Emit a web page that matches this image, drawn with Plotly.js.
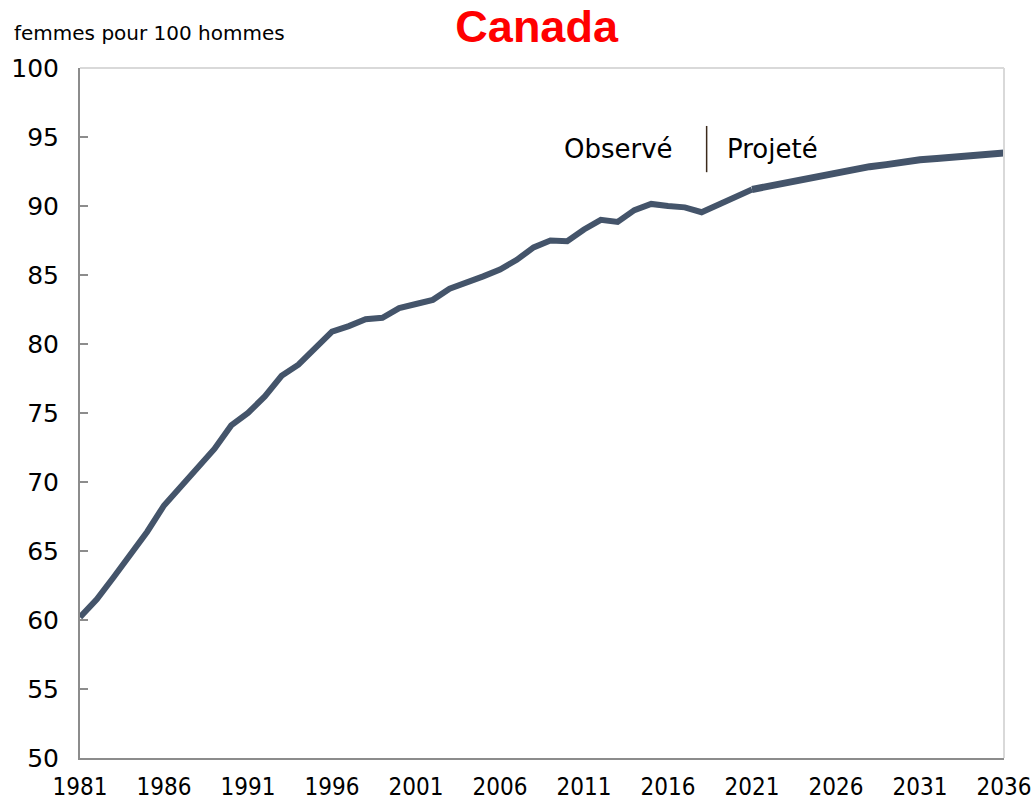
<!DOCTYPE html>
<html>
<head>
<meta charset="utf-8">
<script src="https://cdn.plot.ly/plotly-3.0.1.min.js"></script>
<style>html,body{margin:0;padding:0;background:#fff;}#chart{width:1036px;height:806px;}</style>
</head>
<body>
<div id="chart"></div>
<script>
const obsYears = [1981,1982,1983,1984,1985,1986,1987,1988,1989,1990,1991,1992,1993,1994,1995,1996,1997,1998,1999,2000,2001,2002,2003,2004,2005,2006,2007,2008,2009,2010,2011,2012,2013,2014,2015,2016,2017,2018,2019,2020,2021];
const obsValues = [60.2,61.5,63.1,64.7,66.4,68.3,69.7,71.1,72.4,74.1,75.0,76.2,77.7,78.5,79.7,80.9,81.3,81.8,81.9,82.6,82.9,83.2,84.0,84.4,84.9,85.4,86.1,87.0,87.5,87.45,88.3,89.0,88.85,89.7,90.15,90.0,89.9,89.55,90.1,90.6,91.2];
const projYears = [2021,2022,2023,2024,2025,2026,2027,2028,2029,2030,2031,2032,2033,2034,2035,2036];
const projValues = [91.2,91.45,91.7,91.95,92.2,92.45,92.65,92.85,93.0,93.2,93.35,93.45,93.55,93.65,93.75,93.85];
const tickYears = [1981,1986,1991,1996,2001,2006,2011,2016,2021,2026,2031,2036];
const tickValues = [50,55,60,65,70,75,80,85,90,95,100];

const lineColor = '#44546a';
const condFont = 'DejaVu Sans Condensed, Liberation Sans Narrow, Liberation Sans, sans-serif';

const data = [
  {x: obsYears, y: obsValues, type: 'scatter', mode: 'lines', line: {color: lineColor, width: 6}, hoverinfo: 'x+y'},
  {x: projYears, y: projValues, type: 'scatter', mode: 'lines', line: {color: lineColor, width: 7}, hoverinfo: 'x+y'}
];

const layout = {
  width: 1036, height: 806,
  margin: {l: 80, r: 32, t: 68, b: 48},
  paper_bgcolor: '#fff', plot_bgcolor: '#fff',
  showlegend: false,
  title: {text: '<b>Canada</b>', x: 0.518, xanchor: 'center', y: 0.968, yanchor: 'middle',
          font: {family: 'Liberation Sans, Arial, sans-serif', size: 45, color: '#ff0000'}},
  xaxis: {range: [1981, 2036], tickvals: tickYears, ticktext: tickYears.map(String),
          showgrid: false, zeroline: false, showline: true, linecolor: '#8c8c8c', linewidth: 2,
          ticks: '', tickfont: {family: condFont, size: 24, color: '#000'}, ticklabelstandoff: 6},
  yaxis: {range: [50, 100], tickvals: tickValues, ticktext: tickValues.map(String),
          showgrid: false, zeroline: false, showline: true, linecolor: '#8c8c8c', linewidth: 2,
          ticks: 'inside', ticklen: 8, tickcolor: '#8c8c8c', tickwidth: 2,
          tickfont: {family: 'DejaVu Sans, sans-serif', size: 25, color: '#000'}, ticklabelstandoff: 14},
  shapes: [
    {type: 'line', xref: 'paper', yref: 'paper', x0: 0, x1: 1, y0: 1, y1: 1, line: {color: '#d9d9d9', width: 2}},
    {type: 'line', xref: 'paper', yref: 'paper', x0: 1, x1: 1, y0: 0, y1: 1, line: {color: '#d9d9d9', width: 2}},
    {type: 'line', xref: 'x', yref: 'y', x0: 2018.3, x1: 2018.3, y0: 92.45, y1: 95.8, line: {color: '#3b2a1c', width: 1.5}}
  ],
  annotations: [
    {text: 'femmes pour 100 hommes', xref: 'paper', yref: 'paper', x: -0.074, y: 1.051, xanchor: 'left', yanchor: 'middle',
     showarrow: false, font: {family: 'DejaVu Sans, sans-serif', size: 20, color: '#000'}},
    {text: 'Observé', xref: 'x', yref: 'y', x: 2016.4, y: 94.1, xanchor: 'right', yanchor: 'middle',
     showarrow: false, font: {family: 'DejaVu Sans, sans-serif', size: 26, color: '#000'}},
    {text: 'Projeté', xref: 'x', yref: 'y', x: 2019.4, y: 94.1, xanchor: 'left', yanchor: 'middle',
     showarrow: false, font: {family: 'DejaVu Sans, sans-serif', size: 26, color: '#000'}}
  ]
};

Plotly.newPlot('chart', data, layout, {displayModeBar: false, staticPlot: true});
</script>
</body>
</html>
